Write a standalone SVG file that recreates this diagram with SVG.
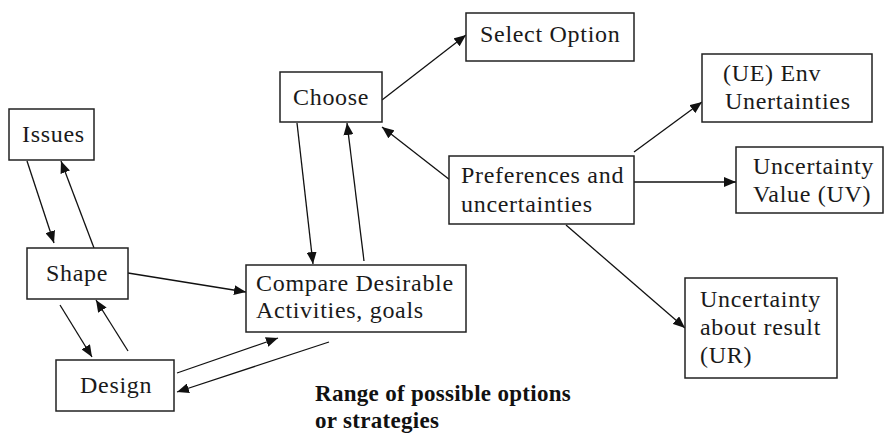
<svg xmlns="http://www.w3.org/2000/svg" width="884" height="433" viewBox="0 0 884 433">
  <style>
    .box { fill: #ffffff; stroke: #222222; stroke-width: 1.5; }
    .lbl { font-family: "Liberation Serif", "Times New Roman", serif; font-size: 24px; letter-spacing: 0.7px; fill: #1a1a1a; }
    .note { font-family: "Liberation Serif", "Times New Roman", serif; font-size: 23px; font-weight: bold; letter-spacing: 0.3px; fill: #111111; }
    .edge { fill: none; stroke: #111111; stroke-width: 1.3; marker-end: url(#arrow); }
  </style>
  <defs>
    <marker id="arrow" viewBox="0 0 12 10" refX="12" refY="5" markerWidth="12" markerHeight="10" markerUnits="userSpaceOnUse" orient="auto">
      <path d="M0,0 L12,5 L0,10 z" fill="#111111"/>
    </marker>
  </defs>

  <rect width="884" height="433" fill="#ffffff"/>

  <!-- connectors -->
  <g id="connectors">
    <line class="edge" x1="27" y1="161" x2="54" y2="243"/>
    <line class="edge" x1="94" y1="248" x2="61" y2="161"/>
    <line class="edge" x1="128" y1="273" x2="246" y2="292"/>
    <line class="edge" x1="60" y1="305" x2="92" y2="357"/>
    <line class="edge" x1="128" y1="351" x2="96" y2="300"/>
    <line class="edge" x1="177" y1="373" x2="278" y2="338"/>
    <line class="edge" x1="329" y1="342" x2="177" y2="392"/>
    <line class="edge" x1="297" y1="123" x2="313" y2="264"/>
    <line class="edge" x1="364" y1="261" x2="347" y2="123"/>
    <line class="edge" x1="450" y1="180" x2="382" y2="127"/>
    <line class="edge" x1="382" y1="100" x2="466" y2="35"/>
    <line class="edge" x1="634" y1="152" x2="702" y2="102"/>
    <line class="edge" x1="634" y1="182" x2="736" y2="182"/>
    <line class="edge" x1="566" y1="225" x2="685" y2="328"/>
  </g>

  <g id="issues">
    <rect class="box" x="9" y="109" width="85" height="51"/>
    <text class="lbl" x="22" y="142">Issues</text>
  </g>

  <g id="shape">
    <rect class="box" x="27" y="248" width="101" height="51"/>
    <text class="lbl" x="46" y="281">Shape</text>
  </g>

  <g id="design">
    <rect class="box" x="56" y="360" width="118" height="51"/>
    <text class="lbl" x="80" y="393">Design</text>
  </g>

  <g id="compare">
    <rect class="box" x="246" y="265" width="220" height="67"/>
    <text class="lbl" x="256" y="291">Compare Desirable</text>
    <text class="lbl" x="256" y="318">Activities, goals</text>
  </g>

  <g id="choose">
    <rect class="box" x="280" y="72" width="102" height="50"/>
    <text class="lbl" x="293" y="105">Choose</text>
  </g>

  <g id="select-option">
    <rect class="box" x="466" y="13" width="168" height="48"/>
    <text class="lbl" x="480" y="42">Select Option</text>
  </g>

  <g id="preferences">
    <rect class="box" x="449" y="156" width="185" height="68"/>
    <text class="lbl" x="461" y="183">Preferences and</text>
    <text class="lbl" x="461" y="212">uncertainties</text>
  </g>

  <g id="env-uncertainties">
    <rect class="box" x="702" y="54" width="170" height="68"/>
    <text class="lbl" x="723" y="81">(UE) Env</text>
    <text class="lbl" x="725" y="109">Unertainties</text>
  </g>

  <g id="uncertainty-value">
    <rect class="box" x="736" y="147" width="147" height="66"/>
    <text class="lbl" x="753" y="174">Uncertainty</text>
    <text class="lbl" x="753" y="202">Value (UV)</text>
  </g>

  <g id="uncertainty-result">
    <rect class="box" x="685" y="278" width="152" height="100"/>
    <text class="lbl" x="700" y="307">Uncertainty</text>
    <text class="lbl" x="700" y="335">about result</text>
    <text class="lbl" x="700" y="363">(UR)</text>
  </g>

  <g id="range-note">
    <text class="note" x="315" y="401">Range of possible options</text>
    <text class="note" x="315" y="428">or strategies</text>
  </g>
</svg>
